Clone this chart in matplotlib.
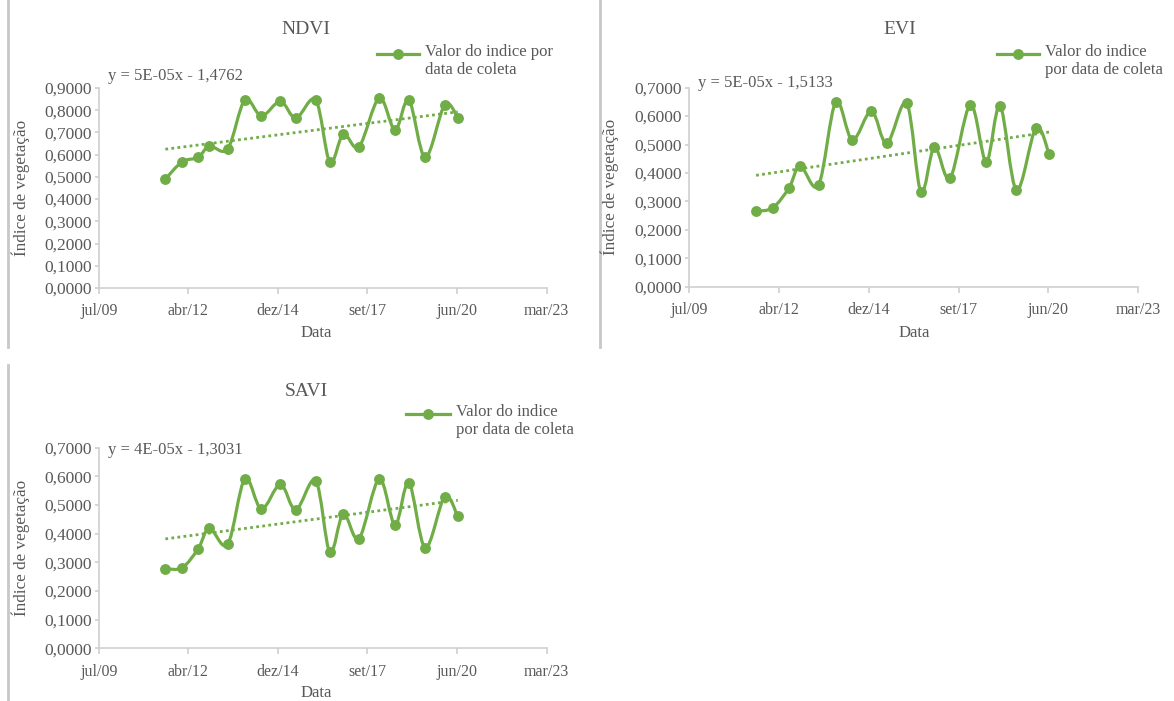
import numpy as np
import matplotlib
matplotlib.use("Agg")
import matplotlib.pyplot as plt
import matplotlib.dates as mdates
from matplotlib.path import Path
from matplotlib.patches import PathPatch
from matplotlib.lines import Line2D

plt.rcParams["font.family"] = ["Liberation Serif", "DejaVu Serif"]

GREEN = "#70ad47"
TEXT = "#595959"
AXIS = "#d0d0d0"

# Datas de coleta das imagens
datas = [
    "2011-07-20", "2012-01-24", "2012-07-22", "2012-11-22", "2013-06-15",
    "2013-12-24", "2014-06-27", "2015-01-25", "2015-07-16", "2016-02-23",
    "2016-07-30", "2016-12-27", "2017-06-20", "2018-02-01", "2018-07-28",
    "2018-12-29", "2019-06-30", "2020-02-02", "2020-06-27",
]

ndvi = [0.490, 0.568, 0.588, 0.639, 0.626, 0.846, 0.774, 0.840, 0.764, 0.846,
        0.566, 0.692, 0.635, 0.855, 0.711, 0.846, 0.588, 0.824, 0.767]
evi = [0.265, 0.278, 0.348, 0.425, 0.357, 0.649, 0.516, 0.618, 0.504, 0.645,
       0.333, 0.491, 0.382, 0.640, 0.440, 0.636, 0.340, 0.559, 0.467]
savi = [0.278, 0.281, 0.348, 0.419, 0.363, 0.591, 0.486, 0.572, 0.483, 0.585,
        0.335, 0.469, 0.383, 0.591, 0.431, 0.578, 0.351, 0.529, 0.460]

equacoes = ["y = 5E-05x - 1,4762", "y = 5E-05x - 1,5133", "y = 4E-05x - 1,3031"]
titulos = ["NDVI", "EVI", "SAVI"]
legendas = ["Valor do indice por\ndata de coleta",
            "Valor do indice\npor data de coleta",
            "Valor do indice\npor data de coleta"]
ymax = [0.9, 0.7, 0.7]

# Eixo de datas: limites e marcas principais
tick_datas = ["2009-07-06", "2012-04-01", "2014-12-27", "2017-09-22", "2020-06-18", "2023-03-15"]
tick_labels = ["jul/09", "abr/12", "dez/14", "set/17", "jun/20", "mar/23"]

W, H = 1174, 701


def fx(px):
    return px / W


def fy(py):
    return 1 - py / H


def smooth_path(x, y):
    """Curva suavizada (Bezier) passando pelos pontos, no estilo do Excel."""
    pts = np.column_stack([x, y])
    n = len(pts)
    verts = [pts[0]]
    codes = [Path.MOVETO]
    for i in range(n - 1):
        p0 = pts[max(i - 1, 0)]
        p1 = pts[i]
        p2 = pts[i + 1]
        p3 = pts[min(i + 2, n - 1)]
        c1 = p1 + (p2 - p0) / 6.0
        c2 = p2 - (p3 - p1) / 6.0
        verts += [c1, c2, p2]
        codes += [Path.CURVE4] * 3
    return Path(verts, codes)


def painel(fig, box, x, y, titulo, eq, top, leg_text, leg_x, leg_y, title_pos, eq_pos, ylab_x, xlab_pos):
    left, right, ytop, ybot = box
    ax = fig.add_axes([fx(left), fy(ybot), fx(right - left), (ybot - ytop) / H])
    ax.add_patch(PathPatch(smooth_path(x, y), fill=False, edgecolor=GREEN, lw=2.3,
                           capstyle="round", joinstyle="round", zorder=3))
    ax.plot(x, y, linestyle="none", marker="o", ms=6.8, color=GREEN, zorder=4)

    # Linha de tendencia linear
    coef = np.polyfit(x, y, 1)
    xt = np.array([x[0], x[-1]])
    ax.plot(xt, np.polyval(coef, xt), linestyle=(0, (1, 1.2)), lw=2, color=GREEN, zorder=2)

    ticks = mdates.datestr2num(tick_datas)
    ax.set_xlim(ticks[0], ticks[-1])
    ax.set_xticks(ticks)
    ax.set_xticklabels(tick_labels)
    ax.set_ylim(0, top)
    yt = np.arange(0, top + 1e-9, 0.1)
    ax.set_yticks(yt)
    ax.set_yticklabels([f"{v:.4f}".replace(".", ",") for v in yt])

    for s in ["top", "right"]:
        ax.spines[s].set_visible(False)
    for s in ["left", "bottom"]:
        ax.spines[s].set_color(AXIS)
        ax.spines[s].set_linewidth(1.2)
    ax.tick_params(axis="x", colors=AXIS, labelcolor=TEXT, labelsize=11.5, length=4, width=1.2, pad=7)
    ax.tick_params(axis="y", colors=AXIS, labelcolor=TEXT, labelsize=12.5, length=3, width=1.2, pad=2)
    ax.set_facecolor("none")

    fig.text(fx(title_pos[0]), fy(title_pos[1]), titulo, ha="center", va="center", fontsize=14, color=TEXT)
    fig.text(fx(eq_pos[0]), fy(eq_pos[1]), eq, ha="left", va="center", fontsize=12, color=TEXT)
    fig.text(fx(ylab_x), fy((ytop + ybot) / 2), "Índice de vegetação", rotation=90,
             ha="center", va="center", fontsize=12.3, color=TEXT)
    fig.text(fx(xlab_pos[0]), fy(xlab_pos[1]), "Data", ha="center", va="center", fontsize=12, color=TEXT)

    # Legenda: amostra da serie na altura da primeira linha do texto
    fig.add_artist(Line2D([fx(leg_x[0]), fx(leg_x[1])], [fy(leg_y), fy(leg_y)], color=GREEN, lw=2.3))
    fig.add_artist(Line2D([fx((leg_x[0] + leg_x[1]) / 2)], [fy(leg_y)], color=GREEN,
                          marker="o", ms=6.8, linestyle="none"))
    fig.text(fx(leg_x[1] + 6), fy(leg_y - 10), leg_text, ha="left", va="top", fontsize=12,
             color=TEXT, linespacing=1.15)
    return ax


fig = plt.figure(figsize=(W / 100, H / 100), dpi=100)
fig.patch.set_facecolor("white")

x = mdates.datestr2num(datas)

painel(fig, (98.7, 546.5, 88, 288), x, ndvi, titulos[0], equacoes[0], ymax[0],
       legendas[0], (377, 419), 54, (306, 30), (108, 76), 21, (316, 333))
painel(fig, (689.3, 1138, 87.7, 286.7), x, evi, titulos[1], equacoes[1], ymax[1],
       legendas[1], (997, 1039), 54, (900, 30), (698, 83), 610, (914, 333))
painel(fig, (98.7, 546.5, 447.7, 648.3), x, savi, titulos[2], equacoes[2], ymax[2],
       legendas[2], (406, 450), 414, (306, 392), (108, 450), 21, (316, 693))

# Bordas verticais dos quadros
for (px, y0, y1) in [(7.5, 0, 347), (600, 0, 347), (7.5, 365, 701)]:
    fig.add_artist(Line2D([fx(px), fx(px)], [fy(y0), fy(y1)], color="#c8c8c8", lw=2))

fig.savefig("out.png", dpi=100)
